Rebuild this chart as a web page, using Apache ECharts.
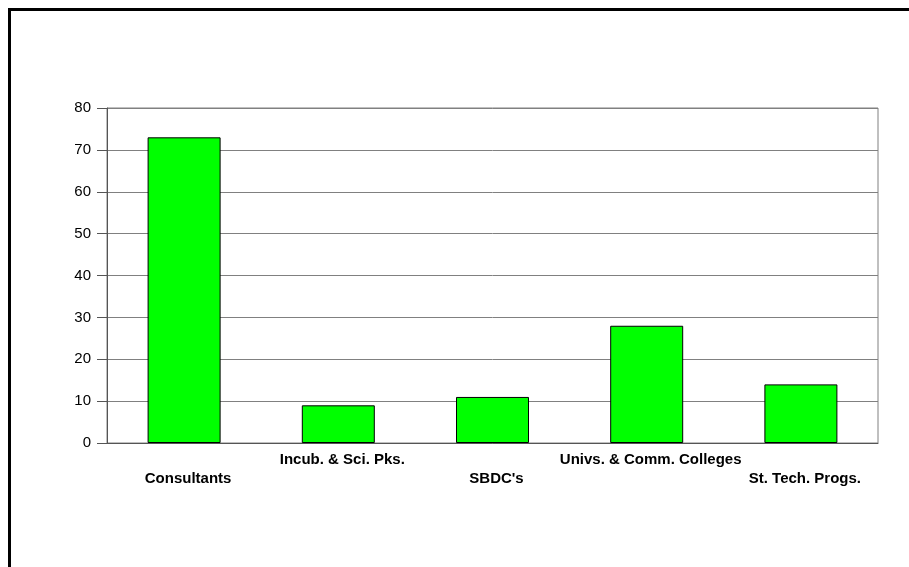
<!DOCTYPE html>
<html>
<head>
<meta charset="utf-8">
<script src="https://cdn.jsdelivr.net/npm/echarts@6/dist/echarts.min.js"></script>
<style>
  html, body { margin: 0; padding: 0; background: #fff; }
  #chart { width: 909px; height: 567px; }
</style>
</head>
<body>
<div id="chart"></div>
<script>
// Data
var categories = ['Consultants', 'Incub. & Sci. Pks.', "SBDC's", 'Univs. & Comm. Colleges', 'St. Tech. Progs.'];
var counts = [73, 9, 11, 28, 14];
var yTicks = [0, 10, 20, 30, 40, 50, 60, 70, 80];

var chart = echarts.init(document.getElementById('chart'), null, { renderer: 'canvas' });

var labelFont = 'Liberation Sans, Arial, sans-serif';

var option = {
  backgroundColor: '#ffffff',
  animation: false,
  graphic: [{
    type: 'rect',
    shape: { x: 9.5, y: 9.5, width: 920, height: 580 },
    style: { fill: 'none', stroke: '#000', lineWidth: 3 },
    silent: true
  }],
  grid: {
    left: 107, right: 31, top: 108, bottom: 124,
    show: true, borderColor: '#808080', borderWidth: 1, backgroundColor: 'transparent'
  },
  xAxis: {
    type: 'category',
    data: categories,
    axisLine: { show: true, lineStyle: { color: '#555', width: 1 } },
    axisTick: { show: false },
    axisLabel: {
      interval: 0,
      margin: 9,
      fontFamily: labelFont,
      fontSize: 15,
      fontWeight: 'bold',
      color: '#000',
      // alternate labels sit on two staggered rows
      formatter: function (v, i) {
        return i % 2 === 0 ? '{lo|' + v + '}' : '{hi|' + v + '}';
      },
      rich: {
        hi: { fontFamily: labelFont, fontSize: 15, fontWeight: 'bold', color: '#000', padding: [0, 0, 0, 8] },
        lo: { fontFamily: labelFont, fontSize: 15, fontWeight: 'bold', color: '#000', padding: [19, 0, 0, 8] }
      }
    }
  },
  yAxis: {
    type: 'value',
    min: yTicks[0],
    max: yTicks[yTicks.length - 1],
    interval: 10,
    axisLine: { show: true, lineStyle: { color: '#555', width: 1 } },
    axisTick: { show: true, length: 10, lineStyle: { color: '#555' } },
    splitLine: { show: true, lineStyle: { color: '#808080', width: 1 } },
    axisLabel: {
      margin: 16,
      fontFamily: labelFont,
      fontSize: 15,
      color: '#000'
    }
  },
  series: [{
    type: 'bar',
    data: counts,
    barWidth: 73,
    itemStyle: { color: '#00ff00', borderColor: '#000', borderWidth: 1 }
  }]
};

chart.setOption(option);
</script>
</body>
</html>
